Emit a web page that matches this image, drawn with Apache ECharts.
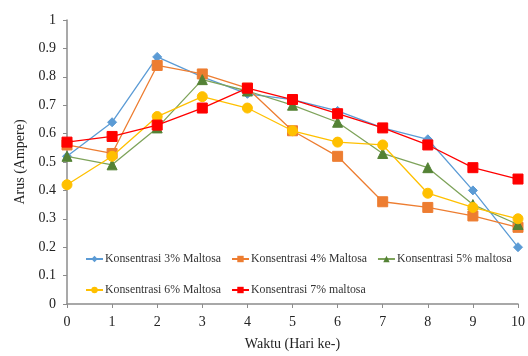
<!DOCTYPE html>
<html>
<head>
<meta charset="utf-8">
<script src="https://cdn.jsdelivr.net/npm/echarts@6/dist/echarts.min.js"></script>
<style>
html,body{margin:0;padding:0;background:#fff;}
#chart{width:528px;height:356px;}
</style>
</head>
<body>
<div id="chart"></div>
<script>
// Days of measurement
var days = ['0','1','2','3','4','5','6','7','8','9','10'];
// Current (Ampere) per maltose concentration
var maltosa3 = [0.52, 0.64, 0.87, 0.80, 0.74, 0.72, 0.68, 0.62, 0.58, 0.40, 0.20];
var maltosa4 = [0.56, 0.53, 0.84, 0.81, 0.76, 0.61, 0.52, 0.36, 0.34, 0.31, 0.27];
var maltosa5 = [0.52, 0.49, 0.62, 0.79, 0.75, 0.70, 0.64, 0.53, 0.48, 0.35, 0.28];
var maltosa6 = [0.42, 0.52, 0.66, 0.73, 0.69, 0.61, 0.57, 0.56, 0.39, 0.34, 0.30];
var maltosa7 = [0.57, 0.59, 0.63, 0.69, 0.76, 0.72, 0.67, 0.62, 0.56, 0.48, 0.44];
var seriesNames = ['Konsentrasi 3% Maltosa','Konsentrasi 4% Maltosa','Konsentrasi 5% maltosa','Konsentrasi 6% Maltosa','Konsentrasi 7% maltosa'];

var font = '"Liberation Serif", "Times New Roman", serif';

function mk(name, data, color, lineColor, symbol, size, z) {
  return {
    name: name, type: 'line', data: data, symbol: symbol, symbolSize: size,
    lineStyle: {color: lineColor, width: 1.3},
    itemStyle: {color: color, borderColor: color},
    z: z, animation: false
  };
}

var legendText = {fontFamily: font, fontSize: 11.8, color: '#333', padding: [0, 0, 0, -3]};

var chart = echarts.init(document.getElementById('chart'));
chart.setOption({
  backgroundColor: '#fff',
  textStyle: {fontFamily: font},
  grid: {left: 67, right: 4, top: 20, bottom: 43},
  legend: [{
    data: seriesNames.slice(0,3),
    left: 80, top: 248, itemWidth: 17, itemHeight: 8, itemGap: 10,
    textStyle: legendText
  },{
    data: seriesNames.slice(3),
    left: 80, top: 279, itemWidth: 17, itemHeight: 8, itemGap: 10,
    textStyle: legendText
  }],
  xAxis: {
    type: 'category', data: days, boundaryGap: false,
    name: 'Waktu (Hari ke-)', nameLocation: 'middle', nameGap: 33,
    nameTextStyle: {fontFamily: font, fontSize: 14, color: '#222'},
    axisLine: {lineStyle: {color: '#8c8c8c', width: 1.5}},
    axisTick: {length: 4, lineStyle: {color: '#8c8c8c'}},
    axisLabel: {fontFamily: font, fontSize: 14, color: '#222', margin: 11},
    splitLine: {show: false}
  },
  yAxis: {
    type: 'value', min: 0, max: 1, interval: 0.1,
    name: 'Arus (Ampere)', nameLocation: 'middle', nameGap: 33, nameRotate: 90,
    nameTextStyle: {fontFamily: font, fontSize: 14, color: '#222'},
    axisLine: {show: true, lineStyle: {color: '#8c8c8c', width: 1.5}},
    axisTick: {show: true, length: 4, lineStyle: {color: '#8c8c8c'}},
    axisLabel: {fontFamily: font, fontSize: 14, color: '#222', margin: 11,
      formatter: function(v){ return Math.round(v*10)/10 + ''; }},
    splitLine: {show: false}
  },
  series: [
    mk(seriesNames[0], maltosa3, '#5B9BD5', '#5B9BD5', 'diamond', 9, 2),
    mk(seriesNames[1], maltosa4, '#ED7D31', '#ED7D31', 'rect', 10, 3),
    mk(seriesNames[2], maltosa5, '#548235', '#7EA35A', 'triangle', 10, 4),
    mk(seriesNames[3], maltosa6, '#FFC000', '#FFC000', 'circle', 10, 5),
    mk(seriesNames[4], maltosa7, '#FF0000', '#FF0000', 'rect', 10, 6)
  ]
});
</script>
</body>
</html>
